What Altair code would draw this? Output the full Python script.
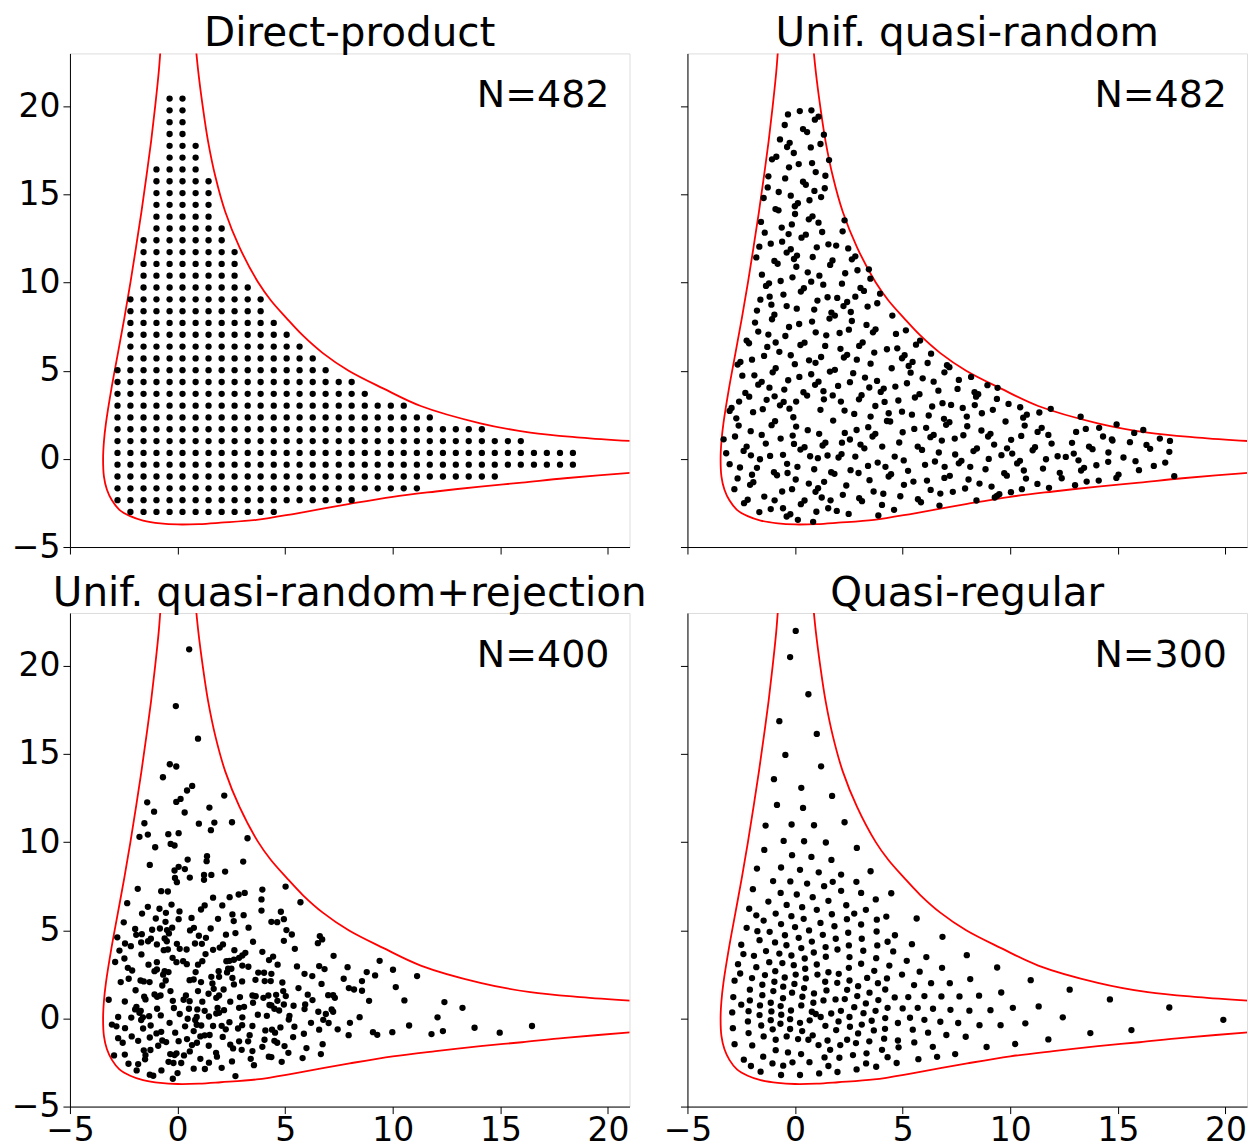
import altair as alt
import pandas as pd

# ---- axis ticks -------------------------------------------------------------
TICKS = [-5, 0, 5, 10, 15, 20]
X_DOMAIN = [-5, 21]
Y_DOMAIN = [-5, 23]

# ---- energy contour (two branches) -------------------------------------------
CURVE_LOWER = [
    (-0.75, 24.0), (-0.87, 22.0), (-1.04, 20.0), (-1.23, 18.0), (-1.45, 16.0),
    (-1.68, 14.0), (-1.93, 12.0), (-2.19, 10.0), (-2.47, 8.0), (-2.77, 6.0),
    (-3.07, 4.0), (-3.33, 2.0), (-3.42, 1.0), (-3.46, 0.0), (-3.42, -1.0),
    (-3.28, -1.75), (-3.05, -2.35), (-2.70, -2.89), (-2.20, -3.25), (-1.60, -3.50),
    (-0.80, -3.66), (0.0, -3.72), (1.0, -3.70), (2.0, -3.62), (3.67, -3.46),
    (5.5, -3.10), (8.0, -2.55), (10.0, -2.15), (12.0, -1.85), (14.07, -1.57),
    (16.0, -1.35), (18.0, -1.10), (21.5, -0.75),
]
CURVE_UPPER = [
    (0.80, 24.0), (0.96, 22.0), (1.17, 20.0), (1.42, 18.0), (1.76, 16.0),
    (2.22, 14.0), (2.88, 12.0), (3.75, 10.0), (4.33, 9.0), (5.05, 8.0),
    (5.82, 7.0), (6.75, 6.0), (7.95, 5.0), (9.55, 4.0), (11.30, 3.0),
    (14.07, 2.02), (16.39, 1.49), (18.72, 1.21), (21.5, 0.98),
]

# ---- direct-product grid: node coordinates and occupied columns per row ------
GRID_X = [-2.79, -2.19, -1.58, -0.98, -0.37, 0.23, 0.84, 1.44, 2.05, 2.65,
          3.26, 3.86, 4.47, 5.07, 5.67, 6.28, 6.88, 7.49, 8.09, 8.70,
          9.30, 9.91, 10.51, 11.12, 11.72, 12.33, 12.93, 13.53, 14.14, 14.74,
          15.35, 15.95, 16.56, 17.16, 17.77, 18.37]
GRID_Y = [-3.01, -2.34, -1.67, -1.00, -0.33, 0.34, 1.01, 1.68, 2.35, 3.02,
          3.69, 4.36, 5.03, 5.70, 6.37, 7.04, 7.71, 8.38, 9.05, 9.72,
          10.39, 11.06, 11.73, 12.40, 13.07, 13.74, 14.41, 15.08, 15.75, 16.42,
          17.09, 17.76, 18.43, 19.10, 19.77, 20.44]
ROW_SPANS = [
    (1, 12), (0, 18), (0, 23), (0, 29), (0, 35), (0, 35), (0, 31), (0, 28),
    (0, 24), (0, 22), (0, 19), (0, 18), (0, 16), (1, 15), (1, 14), (1, 13),
    (1, 12), (1, 11), (1, 11), (2, 10), (2, 9), (2, 9), (2, 9), (2, 8),
    (3, 8), (3, 7), (3, 7), (3, 7), (3, 7), (3, 6), (4, 6), (4, 6),
    (4, 5), (4, 5), (4, 5), (4, 5),
]

# ---- uniform quasi-random points -----------------------------------------------
QUASI_RANDOM = [
    (-0.33, 19.54), (0.22, 19.73), (0.76, 19.77), (0.92, 19.24), (1.09, 19.41), (-0.48, 18.94), (0.37, 18.71), (0.56, 18.54), (1.34, 18.39), (-0.70, 18.12),
    (-0.25, 17.93), (-0.37, 17.69), (0.73, 17.67), (1.18, 17.86), (-0.06, 17.35), (-0.87, 17.14), (-1.07, 16.99), (1.58, 16.95), (0.17, 16.72), (0.79, 16.78),
    (-0.28, 16.54), (0.96, 16.27), (-1.24, 16.03), (-0.46, 15.91), (1.41, 16.06), (0.37, 15.72), (0.50, 15.55), (-1.27, 15.40), (1.38, 15.35), (-0.76, 15.14),
    (-1.46, 14.80), (-0.20, 14.93), (0.67, 14.67), (1.21, 14.85), (-0.91, 14.17), (-0.77, 14.10), (-0.01, 14.33), (0.13, 14.50), (0.00, 13.89), (-1.58, 13.44),
    (0.64, 13.59), (0.81, 13.76), (1.09, 13.40), (2.30, 13.53), (-0.15, 13.30), (-0.62, 13.12), (-1.41, 12.83), (0.30, 12.55), (0.50, 12.72), (1.26, 12.87),
    (2.21, 12.91), (-1.66, 12.04), (-1.13, 12.21), (-0.60, 12.32), (-0.20, 11.89), (-0.39, 11.70), (1.01, 12.00), (1.55, 12.17), (1.91, 12.10), (2.47, 11.94),
    (-1.80, 11.43), (0.09, 11.53), (-0.05, 11.34), (-0.96, 11.23), (-0.81, 11.07), (0.82, 11.45), (1.74, 11.26), (1.63, 11.00), (2.64, 11.32), (2.80, 11.49),
    (0.06, 10.90), (-1.54, 10.45), (0.59, 10.58), (1.13, 10.39), (2.33, 10.53), (2.90, 10.70), (3.43, 10.75), (3.50, 10.22), (-0.67, 10.09), (-0.12, 10.30),
    (-1.21, 9.96), (-1.35, 9.81), (1.31, 9.88), (2.18, 9.94), (0.41, 9.68), (0.27, 9.49), (3.04, 9.70), (3.20, 9.53), (-1.61, 9.03), (-1.18, 9.20),
    (-0.54, 9.32), (1.04, 8.98), (1.51, 9.17), (1.96, 9.13), (2.42, 8.90), (2.25, 8.67), (3.95, 9.37), (3.82, 8.83), (-0.39, 8.67), (0.08, 8.52),
    (0.89, 8.47), (1.69, 8.30), (1.85, 8.13), (1.60, 7.96), (2.59, 8.33), (3.37, 8.64), (-1.77, 8.41), (-0.96, 8.18), (-1.07, 7.92),
    (-1.86, 7.73), (-0.28, 7.48), (0.19, 7.65), (0.79, 7.79), (2.64, 7.82), (3.32, 7.60),
    (-1.71, 7.22), (-1.24, 7.05), (-0.45, 6.97), (0.96, 7.18), (1.45, 7.01), (2.07, 7.14), (2.50, 7.33), (3.62, 7.18), (3.74, 7.35),
    (-2.25, 6.71), (-2.14, 6.56), (0.25, 6.46), (0.44, 6.59), (1.40, 6.41), (2.98, 6.41), (3.14, 6.60),
    (-1.44, 5.84), (-1.29, 6.35), (-0.73, 6.07), (-0.20, 5.88), (2.11, 6.24), (3.68, 6.03), (4.27, 6.22),
    (-2.00, 5.63), (-2.67, 5.35), (-2.54, 5.50), (-0.01, 5.37), (0.65, 5.59), (1.21, 5.78), (2.27, 5.75), (2.42, 5.90), (2.87, 5.63), (3.51, 5.40),
    (-2.45, 4.72), (-1.89, 4.74), (-1.04, 4.91), (-0.90, 5.14), (-0.32, 4.46), (0.20, 4.65), (0.75, 4.80), (1.62, 4.95), (1.85, 5.05), (2.70, 4.86), (3.25, 4.61), (3.81, 4.42),
    (-1.71, 4.21), (-1.55, 4.37), (-1.19, 4.04), (-0.50, 3.93), (0.93, 4.20), (1.09, 4.38), (1.32, 3.84), (2.00, 4.14), (2.55, 4.35), (3.98, 3.80), (4.12, 3.99),
    (-2.31, 3.74), (-2.13, 3.53), (-1.32, 3.35), (-0.70, 3.04), (-0.53, 3.23), (0.39, 3.78), (0.56, 3.59), (1.34, 3.38), (2.13, 3.25), (2.97, 3.38), (3.09, 3.61), (4.16, 3.23),
    (-2.95, 2.89), (-3.04, 2.72), (-1.95, 2.65), (-1.50, 2.82), (-0.26, 2.85), (1.18, 2.78), (2.30, 2.74), (2.75, 2.55), (3.73, 3.00), (3.51, 2.40), (4.35, 2.59),
    (-2.73, 2.30), (-2.62, 1.89), (-1.09, 1.91), (-0.93, 2.14), (-0.08, 2.36), (0.05, 1.83), (1.77, 2.17), (2.86, 1.64), (3.40, 1.80), (4.27, 2.15),
    (-2.06, 1.57), (-3.32, 1.11), (-2.79, 1.27), (-1.55, 1.36), (-0.67, 1.15), (-0.11, 1.32), (0.59, 1.63), (1.12, 1.42), (2.31, 1.47), (3.60, 1.27), (3.73, 1.42),
    (-2.25, 0.70), (-2.39, 0.45), (-1.36, 0.87), (0.25, 0.53), (0.44, 0.66), (1.28, 0.76), (1.41, 0.92), (2.18, 0.92), (3.04, 0.81), (3.22, 0.60),
    (-3.20, 0.32), (-1.63, -0.02), (-1.16, 0.17), (-0.56, 0.23), (1.06, 0.04), (1.51, 0.19), (2.02, 0.08), (2.16, 0.27), (2.80, 0.13),
    (-3.04, -0.30), (-2.56, -0.49), (-1.77, -0.51), (-0.37, -0.28), (0.11, -0.45), (0.89, -0.59), (1.68, -0.76), (1.83, -0.85), (2.58, -0.64), (3.39, -0.40), (3.84, -0.21),
    (-2.67, -1.11), (-0.98, -0.76), (-0.84, -0.93), (0.03, -1.17), (0.64, -1.40), (3.46, -1.21), (4.35, -1.00),
    (-2.82, -1.72), (-2.09, -1.47), (-1.94, -1.32), (-0.60, -1.85), (-0.14, -1.72), (0.95, -1.87), (1.07, -1.66), (2.38, -1.51),
    (-2.37, -2.51), (-2.20, -2.32), (-1.43, -2.14), (0.27, -2.57), (0.44, -2.36), (1.24, -2.19), (2.22, -2.04), (2.98, -2.23), (3.11, -2.40), (3.65, -1.85), (4.10, -1.98),
    (-1.66, -3.02), (-1.13, -2.85), (-0.56, -2.80), (-0.39, -3.27), (-0.22, -3.14), (0.99, -3.00), (1.54, -2.80), (1.94, -2.95), (2.49, -3.12), (4.04, -2.61),
    (0.13, -3.46), (0.84, -3.57), (3.87, -3.21),
    (4.52, 8.13), (4.69, 7.09), (5.15, 7.29), (4.75, 6.27), (5.62, 6.48), (5.81, 6.71), (4.97, 5.71), (5.09, 5.88), (5.28, 5.27), (5.46, 5.50),
    (6.32, 5.97), (6.16, 5.44), (4.49, 5.14), (5.37, 4.89), (5.93, 4.57), (6.44, 4.38), (6.94, 4.91), (7.06, 5.31), (7.17, 5.20), (7.61, 4.48),
    (8.18, 4.65), (4.66, 4.10), (5.20, 4.29), (6.66, 3.87), (7.55, 3.97), (8.34, 3.78), (8.41, 3.53), (8.51, 3.67), (8.94, 4.18), (9.41, 4.03),
    (4.80, 3.31), (5.57, 3.48), (5.78, 3.67), (6.85, 3.16), (7.25, 3.06), (6.37, 2.97), (7.79, 2.89), (9.38, 3.40), (9.92, 3.12), (10.46, 2.93),
    (11.88, 2.84), (4.97, 2.68), (5.43, 2.51), (6.21, 2.46), (6.92, 2.27), (7.02, 1.93), (7.17, 2.08), (7.98, 2.40), (8.00, 1.85), (8.68, 2.59),
    (9.19, 2.78), (9.78, 2.12), (10.60, 2.34), (10.77, 2.51), (10.67, 1.89), (11.35, 2.63), (13.27, 2.39), (14.94, 1.95), (4.42, 2.12), (5.00, 1.51),
    (5.54, 1.70), (6.09, 1.76), (6.29, 1.23), (6.44, 1.36), (6.82, 1.04), (7.42, 1.15), (7.82, 1.34), (8.66, 1.61), (8.97, 1.27), (9.08, 1.42),
    (9.25, 0.81), (10.04, 1.08), (10.51, 1.30), (11.27, 1.53), (11.46, 1.76), (11.77, 1.36), (13.06, 1.53), (13.51, 1.70), (14.13, 1.76), (14.31, 1.27),
    (14.75, 1.04), (15.56, 0.95), (15.76, 1.47), (16.18, 1.64), (16.95, 1.15), (17.42, 1.02), (4.84, 0.93), (5.70, 0.70), (5.90, 0.51), (6.68, 0.36),
    (7.44, 0.25), (7.61, -0.25), (7.73, -0.11), (8.29, 0.44), (8.45, 0.59), (9.00, 0.00), (9.59, 0.21), (10.09, 0.30), (10.32, -0.26), (10.45, -0.11),
    (11.04, 0.49), (11.15, 0.66), (11.66, -0.02), (11.92, 0.87), (12.20, 0.15), (12.58, 0.11), (12.87, 0.91), (13.17, -0.08), (13.66, 0.70), (13.82, 0.55),
    (14.56, 0.36), (14.72, 1.11), (15.26, 0.08), (15.82, -0.13), (16.33, 0.79), (16.50, 0.57), (17.39, 0.40), (17.20, -0.21), (16.67, -0.40), (4.63, 0.13),
    (5.05, -0.09), (5.25, -0.68), (6.04, -0.34), (6.50, -0.15), (6.94, -1.08), (7.19, -0.96), (8.14, -0.45), (8.06, -1.17), (8.85, -0.59), (9.72, -0.81),
    (9.84, -0.95), (10.63, -0.66), (10.73, -1.12), (11.26, -1.42), (11.52, -0.55), (12.30, -0.79), (12.39, -1.10), (13.29, -0.66), (13.43, -0.51), (14.00, -0.36),
    (14.55, -0.17), (15.03, -0.89), (14.93, -1.08), (15.98, -0.64), (17.62, -0.98), (4.46, -0.87), (5.06, -1.47), (5.50, -1.29), (6.13, -1.23), (6.30, -1.76),
    (6.75, -1.97), (7.33, -1.87), (7.90, -1.68), (8.57, -1.40), (9.13, -1.57), (9.38, -2.10), (9.49, -2.00), (10.03, -1.89), (10.54, -1.72), (11.80, -1.64),
    (13.01, -1.49), (13.55, -1.29), (14.11, -1.23), (4.89, -2.12), (5.71, -2.29), (5.85, -2.46), (6.71, -2.65), (8.43, -2.36), (9.28, -2.19), (4.60, -2.89),
    (-2.60, 3.25), (-0.95, 3.55), (0.05, 3.25), (1.75, 3.60), (3.45, 4.05), (-2.05, 0.20), (-0.05, 0.85), (0.70, 0.15), (2.55, 1.10), (4.05, 0.70),
    (-2.00, -0.90), (-0.35, -0.80), (1.35, -1.30), (2.95, -0.80), (4.20, -0.45), (-0.95, -2.35), (1.65, -2.35), (-0.90, 6.60), (0.95, 5.45), (-1.10, 8.75),
    (0.75, 10.05), (2.80, 9.20), (-0.30, 12.75), (0.90, 15.20), (6.95, -0.45), (9.85, 0.60), (12.95, 0.30), (8.35, 3.05),
]

# ---- quasi-random points kept after rejection --------------------------------------
REJECTION = [
    (0.54, 20.94), (-0.08, 17.72), (0.95, 15.87), (-0.36, 14.42), (-0.06, 14.29), (-0.68, 13.68), (0.68, 13.19), (0.44, 12.93), (2.17, 12.64), (-1.41, 12.26),
    (-0.06, 12.28), (0.14, 12.45), (-1.09, 11.73), (0.33, 11.68), (1.48, 11.96), (-1.54, 11.07), (0.99, 11.05), (1.71, 11.11), (2.53, 11.13), (1.55, 10.68),
    (-1.77, 10.30), (-1.38, 10.43), (-0.43, 10.45), (0.05, 10.51), (3.25, 10.22), (-0.32, 9.90), (-0.14, 9.81), (-1.04, 9.71), (-1.29, 8.71), (0.47, 9.01),
    (1.37, 9.20), (1.35, 8.92), (0.05, 8.60), (0.34, 8.47), (-0.14, 8.39), (2.21, 8.33), (0.57, 7.99), (1.23, 8.14), (1.57, 8.14), (-0.12, 7.97),
    (-0.03, 7.73), (1.23, 7.86),
    (-0.76, 7.22), (-0.45, 7.20), (-2.34, 6.54), (-1.38, 6.33), (-0.84, 6.22), (-0.28, 6.46), (-0.54, 5.99), (0.09, 6.07), (0.05, 5.63), (-0.56, 5.48),
    (-1.01, 5.67), (1.09, 6.18), (1.26, 6.41), (2.08, 6.41), (2.42, 6.88), (2.84, 7.03), (3.12, 7.12), (3.90, 6.75), (3.90, 6.12), (2.55, 5.90),
    (2.61, 5.52), (3.07, 5.86), (1.88, 5.65), (3.94, 7.31),
    (-1.97, 5.08), (-1.18, 5.03), (-0.82, 5.10), (-0.49, 5.01), (-0.40, 4.82), (-1.92, 4.74), (-1.66, 4.78), (0.58, 4.99), (0.76, 5.14), (1.54, 5.10),
    (2.69, 4.84), (0.99, 4.69), (1.32, 4.57), (-0.60, 4.54), (-1.37, 4.38), (-1.24, 4.52), (-1.69, 4.31), (-2.44, 4.25), (-2.17, 4.10), (-2.70, 3.85),
    (-0.96, 4.20), (-0.50, 4.38), (-0.03, 4.23), (0.42, 3.91), (1.13, 4.23), (0.81, 4.25), (1.65, 3.89), (1.96, 4.02), (2.11, 4.20), (3.51, 4.35),
    (-0.64, 3.87), (-0.45, 3.91), (-1.68, 3.63), (2.64, 3.87), (3.15, 3.72), (3.94, 3.78), (4.25, 3.31),
    (-2.47, 3.40), (-0.96, 3.19), (-0.23, 3.44), (-0.05, 3.19), (0.26, 3.25), (0.43, 3.08), (1.15, 3.25), (2.27, 3.25), (2.41, 3.27), (2.62, 3.33),
    (3.01, 3.57), (2.86, 3.44), (3.01, 3.00), (3.29, 2.93), (-2.31, 2.87), (-2.11, 2.72), (-0.96, 2.78), (-1.07, 2.68), (-0.60, 2.68), (-0.42, 2.63),
    (-0.67, 2.48), (0.84, 2.63), (2.35, 2.82), (2.30, 2.61), (1.91, 2.68), (2.50, 2.82), (4.02, 2.59),
    (-2.64, 2.06), (-2.27, 2.25), (-1.72, 2.15), (-1.57, 2.10), (-1.30, 2.06), (-0.71, 1.87), (0.56, 2.17), (0.75, 2.21), (1.09, 2.06), (1.57, 2.36),
    (1.93, 2.36), (1.62, 1.98), (2.62, 1.93), (3.62, 2.19), (4.05, 2.12),
    (-3.20, 1.06), (-2.45, 0.96), (-1.55, 1.23), (-1.49, 1.08), (-1.07, 1.36), (-0.95, 1.23), (-0.79, 1.30), (-0.33, 1.55), (0.39, 1.30), (-0.22, 1.00),
    (0.28, 1.06), (0.56, 0.98), (1.44, 1.40), (1.68, 1.68), (1.93, 1.30), (1.80, 1.17), (2.14, 1.64), (2.90, 1.21), (3.48, 1.30), (3.63, 1.26),
    (3.99, 1.17), (4.22, 1.30),
    (-1.91, 0.66), (-1.97, 0.51), (-1.77, 0.32), (-1.71, 0.43), (-0.17, 0.59), (0.53, 0.55), (0.92, 0.51), (1.26, 0.43), (1.86, 0.60), (2.16, 0.47),
    (3.09, 0.66), (2.86, 0.60), (3.51, 0.89), (4.27, 0.76),
    (-2.76, 0.08), (-1.69, -0.09), (-1.61, 0.06), (-1.32, 0.13), (-0.78, 0.17), (-0.37, -0.25), (0.47, -0.02), (0.89, 0.08), (0.82, -0.09), (0.89, -0.36),
    (1.46, 0.11), (1.80, 0.28), (1.93, 0.32), (2.41, -0.21), (3.00, -0.38), (3.01, 0.06), (3.48, -0.43), (3.73, 0.21),
    (-2.84, -0.45), (-2.44, -0.55), (-1.60, -0.57), (-0.98, -0.85), (-0.76, -0.76), (-0.11, -0.81), (0.75, -0.72), (1.06, -1.02), (1.26, -0.96), (1.49, -0.94),
    (1.65, -0.43), (2.05, -0.42), (2.24, -0.62), (2.81, -0.57), (4.08, -0.68),
    (-2.76, -1.12), (-2.13, -1.02), (-1.83, -1.27), (-2.55, -1.38), (-1.29, -1.08), (-0.71, -1.25), (-0.53, -1.34), (0.05, -1.29), (0.44, -1.17), (0.67, -1.51),
    (0.90, -1.38), (2.45, -1.49), (2.86, -1.30), (3.28, -1.30), (4.04, -1.21), (3.94, -1.61),
    (-2.95, -2.10), (-1.57, -1.81), (-1.26, -1.79), (-1.49, -2.08), (-0.34, -2.02), (-0.14, -2.08), (-0.05, -1.98), (0.57, -1.87), (1.06, -2.29), (1.79, -1.95),
    (1.83, -2.17), (2.58, -1.70), (2.98, -1.78), (3.48, -1.85), (4.24, -2.17),
    (-2.28, -2.57), (-1.83, -2.59), (-1.51, -2.32), (-0.42, -2.46), (-0.19, -2.53), (0.17, -2.53), (1.46, -2.51), (2.53, -2.44), (3.40, -2.29),
    (-1.29, -3.19), (-1.13, -3.25), (0.00, -3.10), (-0.22, -3.42), (1.27, -2.87), (2.69, -3.27),
    (5.02, 7.48), (5.71, 6.59), (4.36, 5.48), (4.63, 5.46), (4.94, 5.63), (5.06, 5.01), (5.31, 4.76), (4.94, 4.40), (6.61, 4.67), (6.72, 4.48),
    (6.52, 4.27), (4.44, 3.51), (9.39, 3.27), (6.58, 2.97), (6.83, 2.80), (7.90, 2.91), (4.36, 2.53), (5.90, 2.53), (6.26, 2.40), (7.72, 2.25),
    (8.79, 2.63), (9.18, 2.44), (10.01, 2.76), (11.13, 2.40), (4.33, 2.12), (4.87, 2.04), (6.69, 1.96), (5.62, 1.72), (7.96, 1.72), (8.20, 1.64),
    (8.57, 2.12), (8.57, 1.57), (10.14, 1.78), (4.91, 1.55), (4.58, 1.34), (5.03, 1.27), (7.00, 1.32), (7.23, 1.32), (7.31, 1.17), (6.27, 1.04),
    (10.54, 1.02), (12.40, 0.93), (13.24, 0.60), (4.64, 1.00), (4.36, 0.74), (4.50, 0.55), (4.72, 0.45), (4.94, 0.79), (5.39, 0.72), (5.93, 0.79),
    (5.90, 0.53), (6.54, 0.38), (6.89, 0.25), (7.16, 0.51), (7.23, 0.38), (12.08, 0.06), (8.46, 0.07), (8.01, -0.25), (5.17, -0.06), (4.78, -0.51),
    (5.43, -0.47), (6.77, -0.08), (7.02, -0.26), (6.58, -0.64), (7.44, -0.62), (10.76, -0.40), (13.80, -0.53), (16.47, -0.43), (4.39, -0.64), (4.53, -0.81),
    (5.87, -0.87), (9.08, -0.78), (9.28, -0.93), (9.98, -0.78), (11.80, -0.89), (12.33, -0.72), (14.97, -0.81), (5.37, -1.06), (4.50, -1.27), (4.63, -1.38),
    (4.97, -1.57), (6.74, -1.46), (5.99, -1.68), (4.36, -2.19), (5.81, -2.25), (6.66, -2.02), (4.84, -2.46),
    (-2.50, 5.45), (-1.65, 5.95), (-0.25, 5.15), (0.65, 5.70), (1.65, 6.85), (3.30, 5.15), (-2.80, 4.60), (-1.35, 3.05), (0.10, 3.95), (1.30, 3.65),
    (2.25, 4.75), (3.75, 2.60), (-2.90, 3.20), (-1.95, 1.60), (-0.55, 2.15), (0.95, 1.55), (2.55, 2.30), (3.00, 2.10), (-2.15, 0.05), (-0.95, 0.55),
    (0.10, 0.25), (1.15, 0.95), (2.45, 0.95), (4.15, 0.15), (-3.05, -0.35), (-1.25, -0.40), (0.35, -0.45), (1.10, -0.40), (3.35, -0.95), (-2.45, -2.05),
    (-0.90, -1.55), (0.30, -2.10), (1.45, -1.55), (2.10, -1.05), (-1.90, -2.95), (-0.75, -2.95), (0.75, -2.85), (2.05, -2.80), (3.55, -2.65), (0.95, 3.05),
    (4.65, 3.05), (5.45, 3.95), (5.55, 2.95), (7.25, 3.55), (6.05, 1.35), (8.90, 1.00), (5.20, 0.15), (6.20, -0.25), (7.95, -0.95), (5.15, -1.95),
    (4.80, 6.05), (3.05, 8.90), (-1.85, 7.35),
]

# ---- quasi-regular points ----------------------------------------------------------
QUASI_REGULAR = [
    (0.03, 21.98), (-0.23, 20.50), (0.62, 18.39), (-0.73, 16.86), (1.01, 16.14), (-0.45, 14.95), (1.21, 14.30), (-0.98, 13.57), (0.29, 13.08), (1.72, 12.62),
    (-0.84, 12.11), (0.37, 11.94), (-1.37, 10.94), (-0.16, 11.00), (0.88, 10.96), (2.30, 11.13), (-1.43, 9.56), (-0.53, 10.07), (0.42, 10.05), (1.43, 9.98),
    (2.87, 9.67), (-0.14, 9.26), (0.76, 9.16), (1.69, 8.99), (-1.77, 8.50), (-0.65, 8.56), (0.23, 8.43), (1.10, 8.29), (2.14, 8.16), (3.51, 8.35),
    (-1.02, 7.79), (-0.22, 7.77), (0.56, 7.65),
    (-1.96, 7.33), (-0.67, 7.12), (0.08, 7.03), (1.35, 7.50), (2.14, 7.24), (3.07, 7.12), (4.47, 7.10),
    (-1.24, 6.63), (-0.39, 6.44), (0.33, 6.31), (0.82, 6.88), (1.55, 6.67), (2.38, 6.42), (-2.13, 6.22), (1.01, 6.16), (3.29, 6.16),
    (-0.90, 5.95), (-0.17, 5.80), (0.40, 5.65), (1.71, 5.91), (2.41, 5.63), (4.24, 5.78), (-1.46, 5.55), (3.07, 5.33), (-0.65, 5.35),
    (-2.25, 5.14), (0.00, 5.18), (0.65, 4.99), (1.18, 5.42), (1.83, 5.23), (-1.18, 4.91), (2.47, 4.86), (3.79, 4.93), (4.64, 4.72),
    (-1.65, 4.44), (-0.93, 4.31), (-0.47, 4.72), (0.17, 4.57), (0.78, 4.36), (1.29, 4.74), (1.89, 4.52), (3.10, 4.52), (2.50, 4.14), (3.82, 4.14), (-2.50, 4.18),
    (4.56, 3.80), (-1.35, 3.82), (-0.73, 3.68), (0.29, 3.99), (0.87, 3.74), (1.97, 3.91), (3.17, 3.84), (-1.91, 3.55), (-0.17, 3.57), (1.43, 3.50), (2.53, 3.48), (3.77, 3.42),
    (-1.20, 3.19), (-0.59, 3.14), (-0.06, 3.02), (1.01, 3.06), (3.07, 3.10), (-2.65, 3.08), (-1.80, 2.91), (0.47, 2.82), (2.50, 2.87), (4.38, 3.00), (3.68, 2.70),
    (-0.92, 2.68), (2.03, 2.53), (-1.40, 2.46), (0.03, 2.49), (1.04, 2.49), (-0.48, 2.32), (-2.00, 2.29), (0.50, 2.27), (2.53, 2.15), (4.27, 2.27), (-2.81, 2.14),
    (-0.96, 2.08), (1.40, 2.08), (1.96, 2.02), (-0.03, 1.96), (-1.52, 1.91), (2.93, 1.83), (0.42, 1.72), (-2.10, 1.63), (4.19, 1.64), (-1.01, 1.55),
    (1.46, 1.59), (3.46, 1.46), (-0.14, 1.46), (0.88, 1.42),
    (-1.52, 1.32), (2.89, 1.27), (-2.87, 1.21), (0.34, 1.23), (-0.56, 1.15), (4.63, 1.19), (2.31, 1.10), (-2.10, 1.02), (1.32, 1.02), (1.88, 1.08),
    (3.87, 1.04), (0.85, 0.89), (-1.13, 0.89), (3.29, 0.85),
    (-1.63, 0.74), (0.29, 0.74), (-0.67, 0.70), (2.75, 0.64), (4.30, 0.60), (-0.19, 0.45), (2.13, 0.43), (3.74, 0.43), (-2.16, 0.41), (0.78, 0.38),
    (-2.92, 0.34), (3.18, 0.30), (1.68, 0.28),
    (-1.65, 0.19), (-0.64, 0.21), (0.96, 0.25), (1.19, 0.08), (2.53, 0.08), (4.19, 0.02), (-0.23, -0.04), (-1.13, -0.10), (0.68, -0.11), (3.56, -0.13),
    (-2.19, -0.17), (2.02, -0.17), (0.23, -0.25), (4.78, -0.26),
    (-0.68, -0.30), (-1.57, -0.40), (1.41, -0.42), (2.55, -0.47), (-2.89, -0.55), (4.18, -0.59), (-0.23, -0.60), (-1.04, -0.62), (1.91, -0.66), (0.33, -0.72),
    (3.66, -0.68), (-2.16, -0.83), (2.93, -0.85), (0.82, -0.96),
    (-1.46, -1.02), (-0.39, -1.02), (-0.90, -1.21), (0.14, -1.17), (0.62, -1.21), (1.51, -1.25), (2.42, -1.21), (4.14, -1.15), (4.78, -1.25), (2.83, -1.40),
    (-2.81, -1.46), (2.10, -1.51), (-1.99, -1.53),
    (-0.90, -1.80), (1.63, -1.78), (4.04, -1.78), (-0.33, -1.93), (0.28, -2.02), (3.32, -1.98), (2.69, -2.08), (-1.48, -2.17), (2.06, -2.23), (4.81, -1.64),
    (1.09, -1.51),
    (-0.12, -2.49), (0.67, -2.48), (1.37, -2.21), (-2.38, -2.34), (4.72, -2.53), (3.77, -2.74), (2.86, -2.89),
    (-1.60, -3.02), (-0.65, -3.21), (0.23, -3.21), (1.12, -3.12), (1.97, -3.04),
    (5.65, 5.67), (6.85, 4.63), (5.43, 4.21), (7.98, 3.59), (5.19, 3.27), (6.10, 3.48), (6.83, 2.87), (9.39, 2.89), (4.97, 2.49), (5.79, 2.65),
    (8.14, 2.23), (10.95, 2.17), (5.53, 1.89), (6.32, 2.00), (7.19, 2.00), (12.76, 1.63), (5.26, 1.21), (6.01, 1.27), (6.80, 1.25), (7.64, 1.25),
    (8.55, 1.29), (9.58, 1.47), (14.63, 1.08), (5.00, 0.57), (5.70, 0.60), (6.41, 0.55), (7.22, 0.49), (8.10, 0.44), (9.08, 0.47), (10.12, 0.60),
    (11.32, 0.68), (17.39, 0.62), (5.34, 0.04), (6.01, -0.08), (6.75, -0.19), (7.58, -0.26), (8.57, -0.38), (9.55, -0.38), (10.70, -0.28), (12.44, 0.06),
    (19.90, -0.08), (5.47, -0.64), (6.18, -0.81), (7.03, -0.94), (7.93, -1.04), (13.72, -0.83), (15.63, -0.66), (5.54, -1.36), (6.40, -1.61), (8.90, -1.62),
    (10.23, -1.45), (11.77, -1.19), (5.73, -2.31), (7.44, -2.02),
    (1.42, 4.05), (-1.75, 4.95), (3.80, 5.60), (3.75, 6.75), (2.85, 7.75), (3.85, 2.00), (3.45, -1.30), (3.30, -2.55), (4.30, -2.20), (-1.05, -2.55),
    (-2.05, -2.70), (-2.50, 0.78), (-2.55, 2.55), (-0.55, 1.80), (1.55, 2.62), (2.42, 1.62), (3.35, 2.30), (4.30, 4.35), (0.45, 3.40), (-0.40, 4.15),
    (2.75, 5.95), (-2.40, 3.65), (-1.80, 5.85), (-0.55, -2.68), (1.55, -2.70), (6.60, -2.18), (-1.10, 0.40), (3.10, -0.35), (1.75, 7.75),
]

PANELS = [
    ("Direct-product", "N=482", False, True),
    ("Unif. quasi-random", "N=482", False, False),
    ("Unif. quasi-random+rejection", "N=400", True, True),
    ("Quasi-regular", "N=300", True, False),
]

FONT = "DejaVu Sans"
W, H = 560, 494


def grid_points():
    pts = []
    for j, (first, last) in enumerate(ROW_SPANS):
        for i in range(first, last + 1):
            pts.append((GRID_X[i], GRID_Y[j]))
    return pts


curve_rows = []
for seg, branch in (("lower", CURVE_LOWER), ("upper", CURVE_UPPER)):
    for k, (cx, cy) in enumerate(branch):
        curve_rows.append({"seg": seg, "k": k, "x": cx, "y": cy})
curve_df = pd.DataFrame(curve_rows)


def axis(show_labels, pad):
    return alt.Axis(
        values=TICKS, labels=show_labels, title=None, grid=False,
        ticks=True, tickSize=7, tickWidth=1, tickColor="black",
        domainColor="black", domainWidth=1,
        labelFont=FONT, labelFontSize=33, labelColor="black",
        labelPadding=pad, labelFlush=False, labelOverlap=False,
    )


def panel(points, title, note, x_labels, y_labels):
    xs = alt.Scale(domain=X_DOMAIN, nice=False, zero=False)
    ys = alt.Scale(domain=Y_DOMAIN, nice=False, zero=False)
    xenc = alt.X("x:Q", scale=xs, axis=axis(x_labels, 1))
    yenc = alt.Y("y:Q", scale=ys, axis=axis(y_labels, 3))

    curve = alt.Chart(curve_df).mark_line(
        color="#ff0000", strokeWidth=1.8, clip=True, interpolate="catmull-rom"
    ).encode(x=xenc, y=yenc, detail="seg:N", order="k:Q")

    dots = alt.Chart(pd.DataFrame(points, columns=["x", "y"])).mark_circle(
        size=40, color="black", opacity=1
    ).encode(x=xenc, y=yenc)

    label = alt.Chart(pd.DataFrame({"t": [note]})).mark_text(
        font=FONT, fontSize=38, align="right", baseline="alphabetic", color="black"
    ).encode(x=alt.value(540), y=alt.value(54), text="t:N")

    head = alt.Chart(pd.DataFrame({"t": [title]})).mark_text(
        font=FONT, fontSize=40.5, align="center", baseline="alphabetic", color="black"
    ).encode(x=alt.value(W / 2), y=alt.value(-7), text="t:N")

    return alt.layer(curve, dots, label, head).properties(width=W, height=H)


point_sets = [grid_points(), QUASI_RANDOM, REJECTION, QUASI_REGULAR]
charts = [panel(pts, *spec) for pts, spec in zip(point_sets, PANELS)]

chart = alt.concat(
    *charts, columns=2, spacing={"row": 66, "column": 58}, bounds="flush"
).properties(
    padding={"left": 10, "top": 13, "right": 5, "bottom": 0}
).configure_view(
    stroke="black", strokeWidth=1
).configure(background="white")

chart.save("out.html", embed_options={"renderer": "svg", "actions": False})
